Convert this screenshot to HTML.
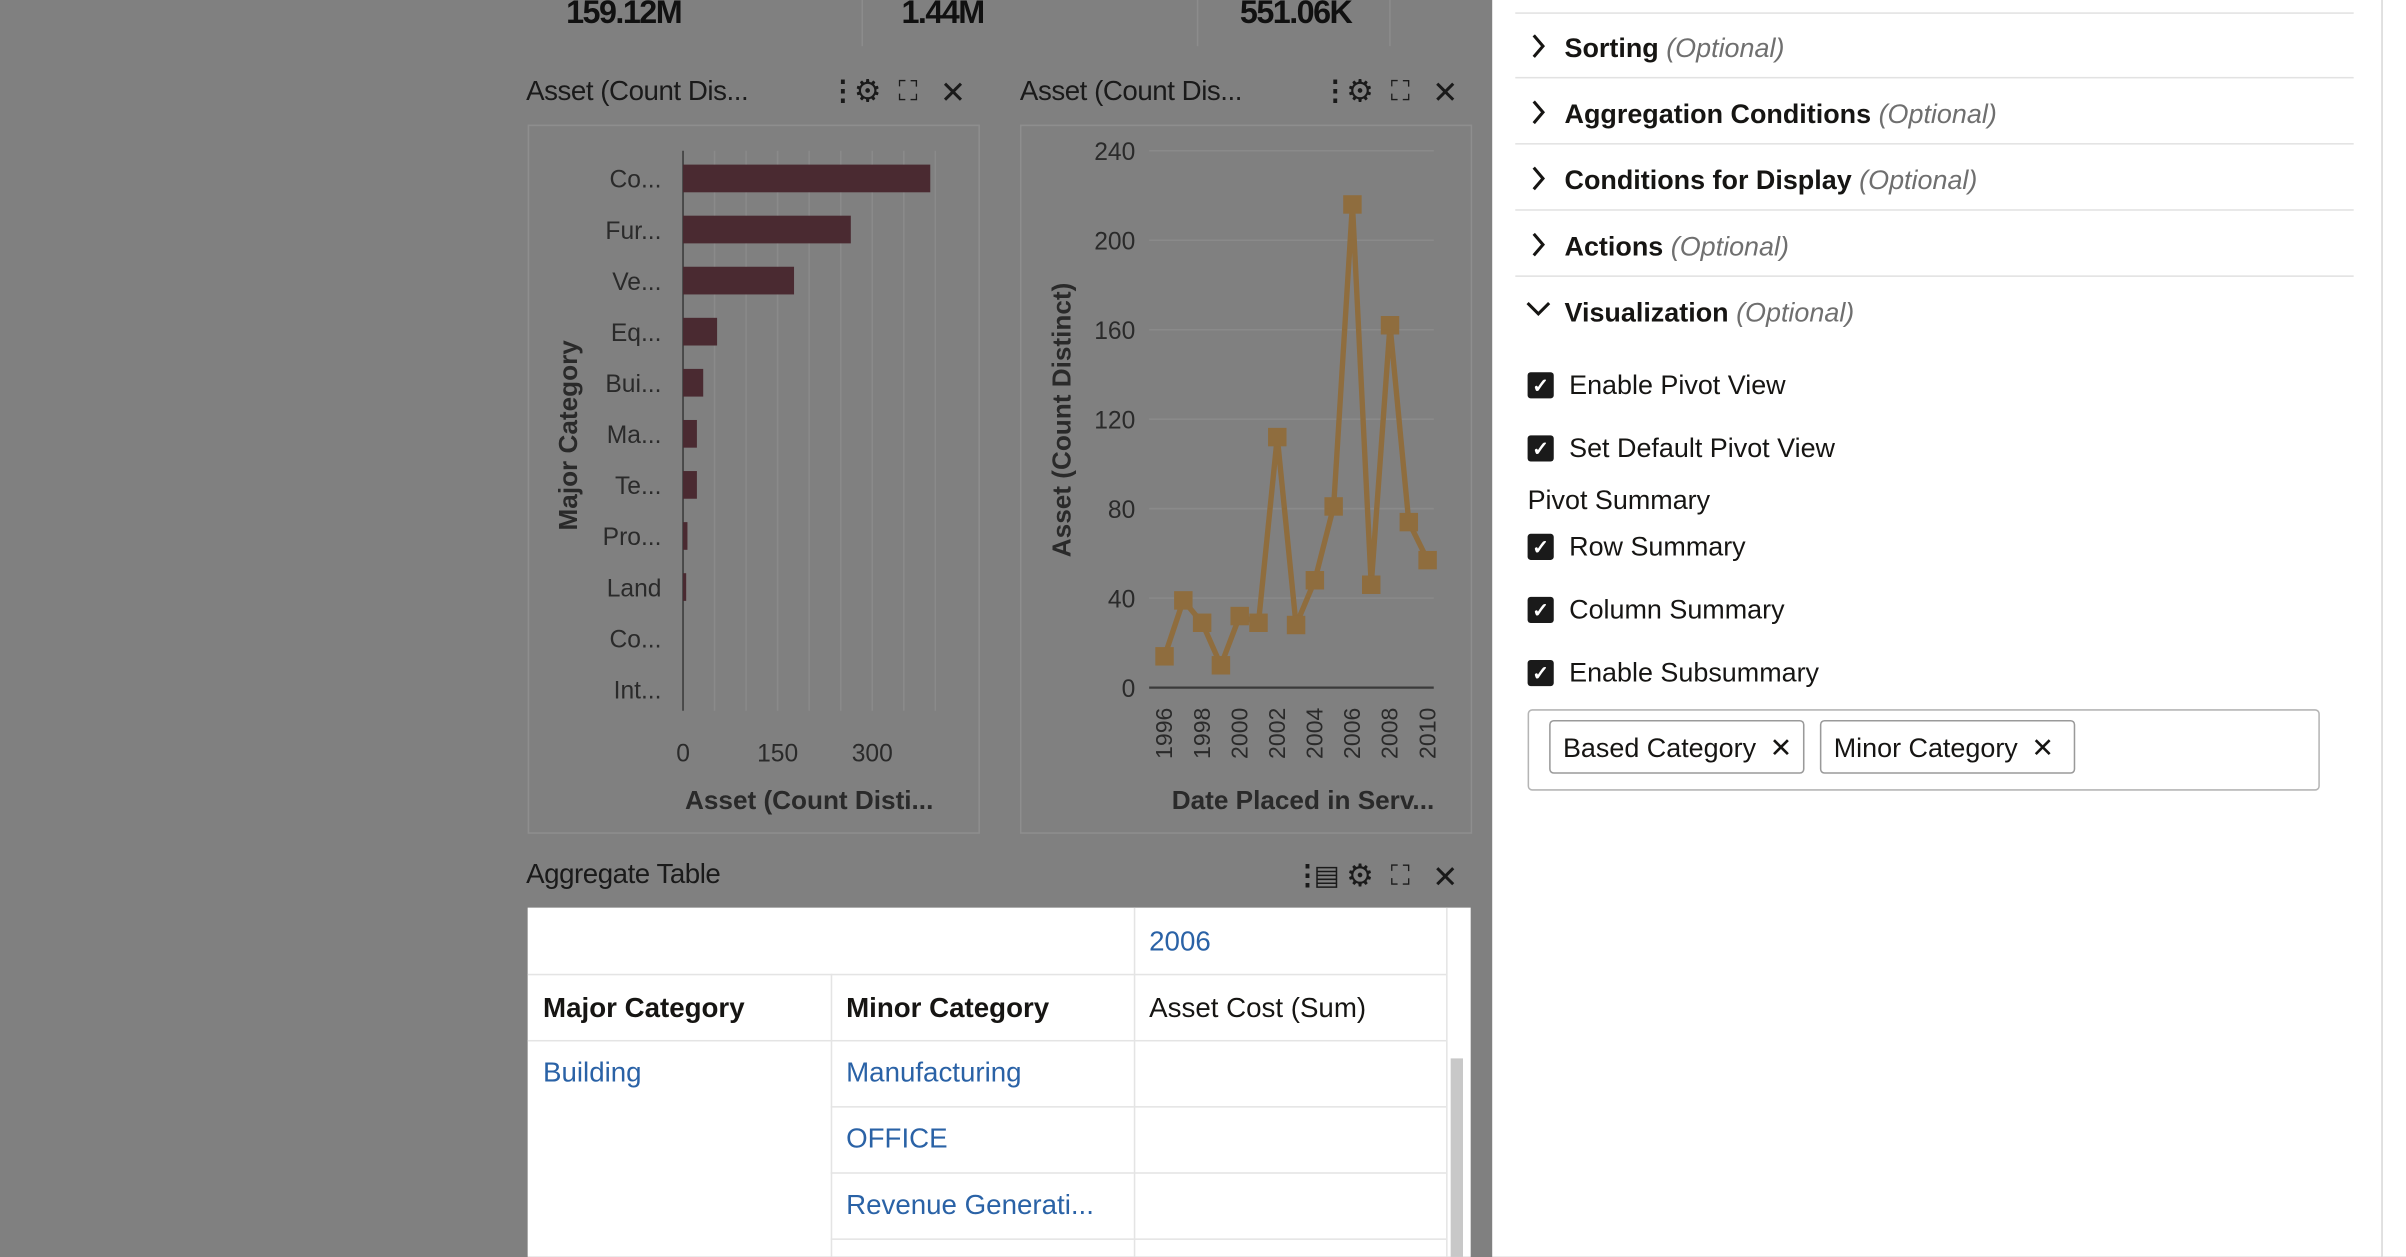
<!DOCTYPE html>
<html><head><meta charset="utf-8">
<style>
html,body{margin:0;padding:0;width:2406px;height:1256px;overflow:hidden;background:#808080;}
#root{position:absolute;left:0;top:0;width:1564px;height:817px;transform:scale(1.53836);transform-origin:0 0;font-family:"Liberation Sans",sans-serif;color:#161513;}
.abs{position:absolute;white-space:nowrap;}
.kpi{font-size:21px;font-weight:bold;color:#111;letter-spacing:-1px;}
.ttl{font-size:18px;color:#1a1a1a;letter-spacing:-0.3px;}
.ico{font-size:18px;color:#1a1a1a;}
.sec{font-size:17.5px;font-weight:bold;color:#161513;}
.sec i{font-weight:normal;color:#6f6f6f;}
.cb{width:17px;height:17px;background:#1a1a1a;border-radius:2px;color:#fff;font-size:13px;line-height:17px;text-align:center;font-weight:bold;}
.lbl{font-size:17.5px;color:#161513;}
.cell{position:absolute;font-size:18px;}
.blue{color:#2a62a6;}
</style></head><body>
<div id="root">
  <div class="abs kpi" style="left:368px;top:-3px">159.12M</div>
  <div class="abs kpi" style="left:586px;top:-3px">1.44M</div>
  <div class="abs kpi" style="left:806px;top:-3px">551.06K</div>
  <div class="abs" style="left:560px;top:0;width:1px;height:30px;background:#8c8c8c"></div>
  <div class="abs" style="left:778px;top:0;width:1px;height:30px;background:#8c8c8c"></div>
  <div class="abs" style="left:903px;top:0;width:1px;height:30px;background:#8c8c8c"></div>

  <div class="abs ttl" style="left:342px;top:49px">Asset (Count Dis...</div>
  <div class="abs ico" style="left:539px;top:49px;font-weight:bold">⋮</div>
  <div class="abs ico" style="left:555px;top:47px;font-size:20px">⚙</div>
  <div class="abs ico" style="left:584px;top:49px">⛶</div>
  <div class="abs ico" style="left:611px;top:48px;font-size:20px">✕</div>
  <div class="abs ttl" style="left:663px;top:49px">Asset (Count Dis...</div>
  <div class="abs ico" style="left:859px;top:49px;font-weight:bold">⋮</div>
  <div class="abs ico" style="left:875px;top:47px;font-size:20px">⚙</div>
  <div class="abs ico" style="left:904px;top:49px">⛶</div>
  <div class="abs ico" style="left:931px;top:48px;font-size:20px">✕</div>

  <svg class="abs" style="left:0;top:0" width="970" height="817" id="charts">
    <rect x="343.5" y="81.5" width="293" height="460" fill="none" stroke="#8e8e8e"/>
    <rect x="663.5" y="81.5" width="293" height="460" fill="none" stroke="#8e8e8e"/>
    <g id="bar"></g>
    <g id="line"></g>
  </svg>

  <div class="abs ttl" style="left:342px;top:558px">Aggregate Table</div>
  <div class="abs ico" style="left:841px;top:559px;font-weight:bold">⋮</div>
  <div class="abs ico" style="left:854px;top:559px">▤</div>
  <div class="abs ico" style="left:875px;top:557px;font-size:20px">⚙</div>
  <div class="abs ico" style="left:904px;top:559px">⛶</div>
  <div class="abs ico" style="left:931px;top:558px;font-size:20px">✕</div>
  <div class="abs" style="left:343px;top:590px;width:613px;height:227px;background:#fff">
    <div class="abs" style="left:0;top:43px;width:597px;height:1px;background:#e4e4e4"></div>
    <div class="abs" style="left:0;top:86px;width:597px;height:1px;background:#e4e4e4"></div>
    <div class="abs" style="left:197px;top:129px;width:400px;height:1px;background:#e4e4e4"></div>
    <div class="abs" style="left:197px;top:172px;width:400px;height:1px;background:#e4e4e4"></div>
    <div class="abs" style="left:197px;top:215px;width:400px;height:1px;background:#e4e4e4"></div>
    <div class="abs" style="left:197px;top:43px;width:1px;height:184px;background:#e4e4e4"></div>
    <div class="abs" style="left:394px;top:0;width:1px;height:227px;background:#e4e4e4"></div>
    <div class="abs" style="left:597px;top:0;width:1px;height:227px;background:#e4e4e4"></div>
    <div class="abs" style="left:600px;top:98px;width:8px;height:129px;background:#c8c8c8"></div>
    <div class="cell blue" style="left:404px;top:12px">2006</div>
    <div class="cell" style="left:10px;top:55px;font-weight:bold">Major Category</div>
    <div class="cell" style="left:207px;top:55px;font-weight:bold">Minor Category</div>
    <div class="cell" style="left:404px;top:55px">Asset Cost (Sum)</div>
    <div class="cell blue" style="left:10px;top:97px">Building</div>
    <div class="cell blue" style="left:207px;top:97px">Manufacturing</div>
    <div class="cell blue" style="left:207px;top:140px">OFFICE</div>
    <div class="cell blue" style="left:207px;top:183px">Revenue Generati...</div>
  </div>

  <div class="abs" style="left:970px;top:0;width:578px;height:817px;background:#fff"></div>
  <div class="abs" style="left:1548px;top:0;width:16px;height:817px;background:#fff;border-left:1px solid #ddd"></div>
  <div class="abs" style="left:985px;top:8px;width:545px;height:1px;background:#e2e2e2"></div>
  <div class="abs" style="left:985px;top:50px;width:545px;height:1px;background:#e2e2e2"></div>
  <div class="abs" style="left:985px;top:93px;width:545px;height:1px;background:#e2e2e2"></div>
  <div class="abs" style="left:985px;top:136px;width:545px;height:1px;background:#e2e2e2"></div>
  <div class="abs" style="left:985px;top:179px;width:545px;height:1px;background:#e2e2e2"></div>

  <svg class="abs" style="left:995px;top:22px" width="10" height="16"><polyline points="2,1 8,8 2,15" fill="none" stroke="#161513" stroke-width="2"/></svg>
  <div class="abs sec" style="left:1017px;top:21px">Sorting <i>(Optional)</i></div>
  <svg class="abs" style="left:995px;top:65px" width="10" height="16"><polyline points="2,1 8,8 2,15" fill="none" stroke="#161513" stroke-width="2"/></svg>
  <div class="abs sec" style="left:1017px;top:64px">Aggregation Conditions <i>(Optional)</i></div>
  <svg class="abs" style="left:995px;top:108px" width="10" height="16"><polyline points="2,1 8,8 2,15" fill="none" stroke="#161513" stroke-width="2"/></svg>
  <div class="abs sec" style="left:1017px;top:107px">Conditions for Display <i>(Optional)</i></div>
  <svg class="abs" style="left:995px;top:151px" width="10" height="16"><polyline points="2,1 8,8 2,15" fill="none" stroke="#161513" stroke-width="2"/></svg>
  <div class="abs sec" style="left:1017px;top:150px">Actions <i>(Optional)</i></div>
  <svg class="abs" style="left:992px;top:196px" width="16" height="10"><polyline points="1,1 8,8 15,1" fill="none" stroke="#161513" stroke-width="2"/></svg>
  <div class="abs sec" style="left:1017px;top:193px">Visualization <i>(Optional)</i></div>

  <div class="abs cb" style="left:993px;top:242px">✓</div>
  <div class="abs lbl" style="left:1020px;top:240px">Enable Pivot View</div>
  <div class="abs cb" style="left:993px;top:283px">✓</div>
  <div class="abs lbl" style="left:1020px;top:281px">Set Default Pivot View</div>
  <div class="abs lbl" style="left:993px;top:315px">Pivot Summary</div>
  <div class="abs cb" style="left:993px;top:347px">✓</div>
  <div class="abs lbl" style="left:1020px;top:345px">Row Summary</div>
  <div class="abs cb" style="left:993px;top:388px">✓</div>
  <div class="abs lbl" style="left:1020px;top:386px">Column Summary</div>
  <div class="abs cb" style="left:993px;top:429px">✓</div>
  <div class="abs lbl" style="left:1020px;top:427px">Enable Subsummary</div>

  <div class="abs" style="left:993px;top:461px;width:513px;height:51px;border:1px solid #b5b5b5;border-radius:3px"></div>
  <div class="abs lbl" style="left:1007px;top:468px;width:166px;height:35px;border:1px solid #9a9a9a;border-radius:3px;box-sizing:border-box;padding:7px 0 0 8px">Based Category <span style="margin-left:4px">✕</span></div>
  <div class="abs lbl" style="left:1183px;top:468px;width:166px;height:35px;border:1px solid #9a9a9a;border-radius:3px;box-sizing:border-box;padding:7px 0 0 8px">Minor Category <span style="margin-left:4px">✕</span></div>
</div>

<script>
const barCategories = ["Co...","Fur...","Ve...","Eq...","Bui...","Ma...","Te...","Pro...","Land","Co...","Int..."];
const barValues = [392,266,176,54,32,22,22,7,5,0,0];
const barTicks = [0,150,300];
const lineYears = ["1996","1998","2000","2002","2004","2006","2008","2010"];
const lineX = [1996,1997,1998,1999,2000,2001,2002,2003,2004,2005,2006,2007,2008,2009,2010];
const lineValues = [14,39,29,10,32,29,112,28,48,81,216,46,162,74,57];
const lineTicks = [0,40,80,120,160,200,240];

const NS = "http://www.w3.org/2000/svg";
function mk(tag, attrs, parent, txt){
  const e = document.createElementNS(NS, tag);
  for (const k in attrs) e.setAttribute(k, attrs[k]);
  if (txt !== undefined) e.textContent = txt;
  parent.appendChild(e);
  return e;
}
const bg = document.getElementById("bar");
const bx = v => 444 + v * (123 / 300);
const by = i => 116 + i * 33.2;
for (let v = 0; v <= 400; v += 50) {
  const gl = mk("line", {x1: bx(v), x2: bx(v), y1: 98, y2: 462, stroke: v === 0 ? "#3a3a3a" : "#8a8a8a", "stroke-width": 1}, bg);
  
  
}
barTicks.forEach(t => {
  const tx = mk("text", {x: bx(t), y: 495, "text-anchor": "middle", "font-size": 16, fill: "#2a2a2a"}, bg, String(t));
  
  
});
barCategories.forEach((c, i) => {
  const t = mk("text", {x: 430, y: by(i) + 6, "text-anchor": "end", "font-size": 16, fill: "#2a2a2a"}, bg, c);
  
  
  const r = mk("rect", {x: bx(0), y: by(i) - 9, width: Math.max(bx(barValues[i]) - bx(0), 0), height: 18, fill: "#4a2a31"}, bg);
  
  
});
const bxt = mk("text", {x: 526, y: 526, "text-anchor": "middle", "font-size": 17, "font-weight": "bold", fill: "#2a2a2a"}, bg, "Asset (Count Disti...");


const byt = mk("text", {x: 0, y: 0, "text-anchor": "middle", "font-size": 17, "font-weight": "bold", fill: "#2a2a2a", transform: "translate(375,283) rotate(-90)"}, bg, "Major Category");



const lg = document.getElementById("line");
const ly = v => 447 - v * (349 / 240);
const lx = yr => 757 + (yr - 1996) * (171 / 14);
lineTicks.forEach(t => {
  const gl = mk("line", {x1: 747, x2: 932, y1: ly(t), y2: ly(t), stroke: t === 0 ? "#3a3a3a" : "#8a8a8a", "stroke-width": t === 0 ? 1.5 : 1}, lg);
  
  
  const tx = mk("text", {x: 738, y: ly(t) + 6, "text-anchor": "end", "font-size": 16, fill: "#2a2a2a"}, lg, String(t));
  
  
});
lineYears.forEach(y => {
  const tx = mk("text", {x: 0, y: 0, "text-anchor": "end", "font-size": 15, fill: "#2a2a2a", transform: `translate(${lx(+y) + 5},460) rotate(-90)`}, lg, y);
  
  
});
const pts = lineX.map((x, i) => lx(x) + "," + ly(lineValues[i])).join(" ");
const pl = mk("polyline", {points: pts, fill: "none", stroke: "#8f6d3e", "stroke-width": 3.5, "stroke-linejoin": "round"}, lg);


lineX.forEach((x, i) => {
  const m = mk("rect", {x: lx(x) - 6, y: ly(lineValues[i]) - 6, width: 12, height: 12, fill: "#8f6d3e"}, lg);
  
  
});
const lxt = mk("text", {x: 847, y: 526, "text-anchor": "middle", "font-size": 17, "font-weight": "bold", fill: "#2a2a2a"}, lg, "Date Placed in Serv...");


const lyt = mk("text", {x: 0, y: 0, "text-anchor": "middle", "font-size": 17, "font-weight": "bold", fill: "#2a2a2a", transform: "translate(696,273) rotate(-90)"}, lg, "Asset (Count Distinct)");


</script>
</body></html>
